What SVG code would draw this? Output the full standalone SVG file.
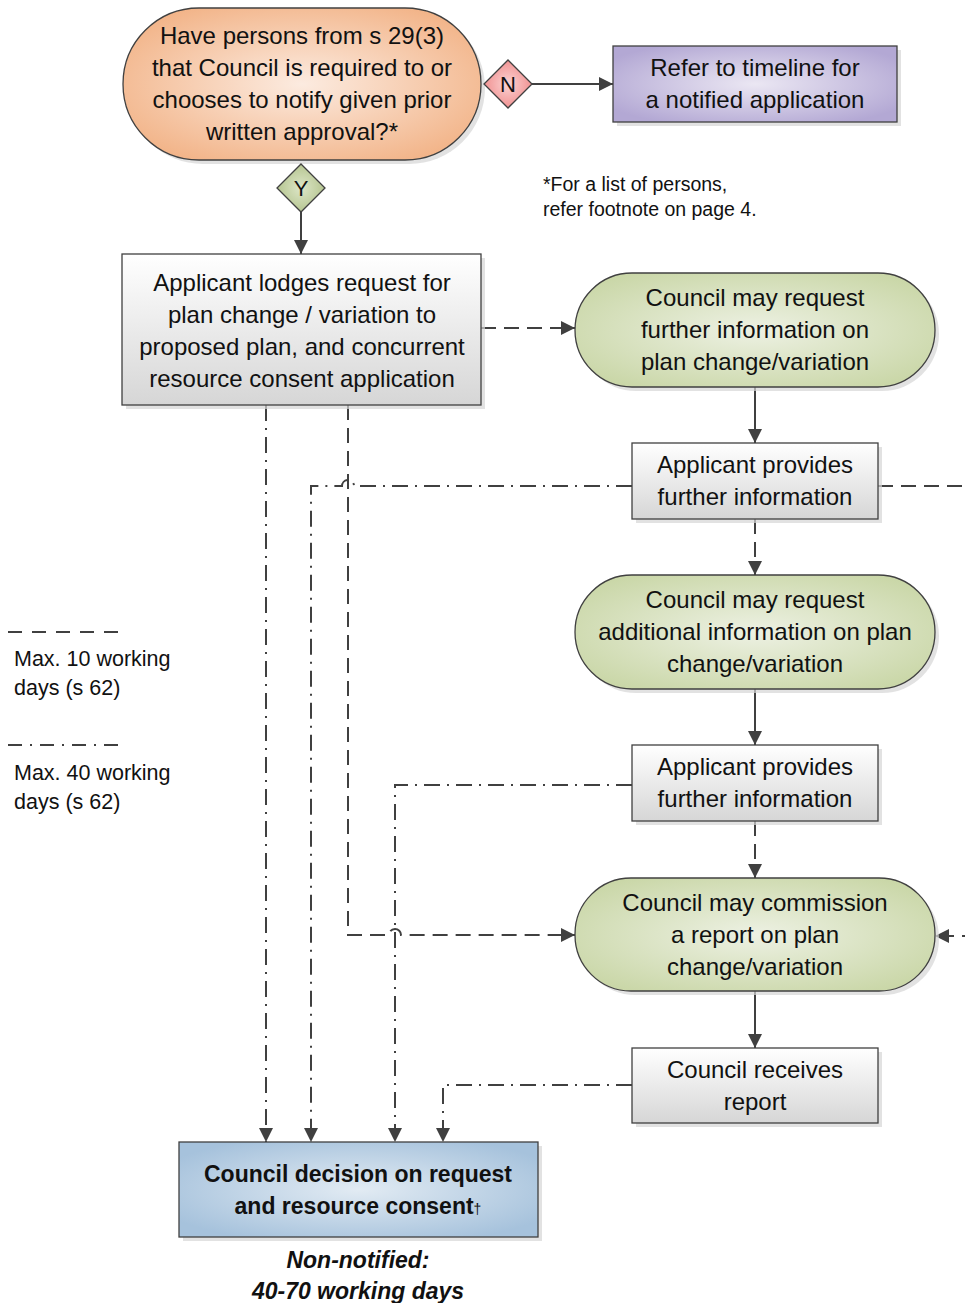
<svg xmlns="http://www.w3.org/2000/svg" width="965" height="1303" viewBox="0 0 965 1303">
  <style>
    .shape { stroke: #404040; stroke-width: 1.3; }
    .shadow { fill: #d6d6d6; opacity: 0.7; }
    .t { font-family: "Liberation Sans", Arial, sans-serif; font-size: 24px; fill: #111; text-anchor: middle; }
    .small { font-family: "Liberation Sans", Arial, sans-serif; font-size: 19.5px; fill: #111; }
    .legend { font-family: "Liberation Sans", Arial, sans-serif; font-size: 21.5px; fill: #111; }
    .b { font-family: "Liberation Sans", Arial, sans-serif; font-size: 23px; font-weight: bold; fill: #111; text-anchor: middle; }
    .bi { font-family: "Liberation Sans", Arial, sans-serif; font-size: 23px; font-weight: bold; font-style: italic; fill: #111; text-anchor: middle; }
    .line { fill: none; stroke: #404040; stroke-width: 2; }
    .solid { marker-end: url(#arrow); }
    .dash { stroke-dasharray: 15 8; }
    .dashdot { stroke-dasharray: 16 7 2 7; }
  </style>
  <defs>
    <radialGradient id="gOrange" cx="50%" cy="50%" r="60%">
      <stop offset="0" stop-color="#fcebe0"/>
      <stop offset="1" stop-color="#f2b387"/>
    </radialGradient>
    <radialGradient id="gPurple" cx="50%" cy="50%" r="60%">
      <stop offset="0" stop-color="#ebe7f3"/>
      <stop offset="1" stop-color="#b3a8d4"/>
    </radialGradient>
    <radialGradient id="gGreen" cx="50%" cy="50%" r="60%">
      <stop offset="0" stop-color="#edf1e3"/>
      <stop offset="1" stop-color="#cad7a8"/>
    </radialGradient>
    <radialGradient id="gBlue" cx="50%" cy="50%" r="60%">
      <stop offset="0" stop-color="#e2ebf3"/>
      <stop offset="1" stop-color="#a6c2dc"/>
    </radialGradient>
    <radialGradient id="gRed" cx="50%" cy="50%" r="60%">
      <stop offset="0" stop-color="#fbd3d3"/>
      <stop offset="1" stop-color="#ef8585"/>
    </radialGradient>
    <radialGradient id="gOlive" cx="50%" cy="50%" r="60%">
      <stop offset="0" stop-color="#dde6c8"/>
      <stop offset="1" stop-color="#aebf86"/>
    </radialGradient>
    <linearGradient id="gGray" x1="0" y1="0" x2="0" y2="1">
      <stop offset="0" stop-color="#ffffff"/>
      <stop offset="1" stop-color="#d6d6d6"/>
    </linearGradient>
    <marker id="arrow" markerUnits="userSpaceOnUse" markerWidth="16" markerHeight="16" refX="14" refY="7" orient="auto">
      <path d="M0,0 L14,7 L0,14 z" fill="#404040"/>
    </marker>
  </defs>

  <rect width="965" height="1303" fill="#ffffff"/>

  <!-- connectors -->
  <g id="connectors">
    <path class="line solid" d="M532,84 H613"/>
    <path class="line solid" d="M301,212 V254"/>
    <path class="line solid dash" d="M481,328 H575"/>
    <path class="line solid" d="M755,387 V443"/>
    <path class="line solid dashdot" d="M632,486 H354 A6,6 0 0 0 342,486 H311 V1142"/>
    <path class="line solid dash" d="M878,486 H990 V936 H935"/>
    <path class="line solid dash" d="M755,519 V575"/>
    <path class="line solid" d="M755,689 V745"/>
    <path class="line solid dashdot" d="M632,785 H395 V1142"/>
    <path class="line solid dash" d="M755,821 V878"/>
    <path class="line solid" d="M755,991 V1048"/>
    <path class="line solid dashdot" d="M632,1085 H443 V1142"/>
    <path class="line solid dashdot" d="M266,405 V1142"/>
    <path class="line solid dash" d="M348,405 V935 H389 A6,6 0 0 1 401,935 H575"/>
  </g>

  <!-- question -->
  <g id="question">
    <rect class="shadow" x="127" y="12" width="358" height="152" rx="76"/>
    <rect class="shape" x="123" y="8" width="358" height="152" rx="76" fill="url(#gOrange)"/>
    <text class="t" x="302" y="44">Have persons from s 29(3)</text>
    <text class="t" x="302" y="76">that Council is required to or</text>
    <text class="t" x="302" y="108">chooses to notify given prior</text>
    <text class="t" x="302" y="140">written approval?*</text>
  </g>

  <g id="no">
    <path class="shape" d="M508,60 L532,84 L508,108 L484,84 z" fill="url(#gRed)"/>
    <text class="t" x="508" y="92" style="font-size:22px">N</text>
  </g>

  <g id="yes">
    <path class="shape" d="M301,164 L325,188 L301,212 L277,188 z" fill="url(#gOlive)"/>
    <text class="t" x="301" y="196" style="font-size:22px">Y</text>
  </g>

  <g id="notified">
    <rect class="shadow" x="617" y="50" width="284" height="76"/>
    <rect class="shape" x="613" y="46" width="284" height="76" fill="url(#gPurple)"/>
    <text class="t" x="755" y="76">Refer to timeline for</text>
    <text class="t" x="755" y="108">a notified application</text>
  </g>

  <g id="footnote">
    <text class="small" x="543" y="191">*For a list of persons,</text>
    <text class="small" x="543" y="216">refer footnote on page 4.</text>
  </g>

  <g id="lodge">
    <rect class="shadow" x="126" y="258" width="359" height="151"/>
    <rect class="shape" x="122" y="254" width="359" height="151" fill="url(#gGray)"/>
    <text class="t" x="302" y="291">Applicant lodges request for</text>
    <text class="t" x="302" y="323">plan change / variation to</text>
    <text class="t" x="302" y="355">proposed plan, and concurrent</text>
    <text class="t" x="302" y="387">resource consent application</text>
  </g>

  <g id="request1">
    <rect class="shadow" x="579" y="277" width="360" height="114" rx="57"/>
    <rect class="shape" x="575" y="273" width="360" height="114" rx="57" fill="url(#gGreen)"/>
    <text class="t" x="755" y="306">Council may request</text>
    <text class="t" x="755" y="338">further information on</text>
    <text class="t" x="755" y="370">plan change/variation</text>
  </g>

  <g id="provide1">
    <rect class="shadow" x="636" y="447" width="246" height="76"/>
    <rect class="shape" x="632" y="443" width="246" height="76" fill="url(#gGray)"/>
    <text class="t" x="755" y="473">Applicant provides</text>
    <text class="t" x="755" y="505">further information</text>
  </g>

  <g id="request2">
    <rect class="shadow" x="579" y="579" width="360" height="114" rx="57"/>
    <rect class="shape" x="575" y="575" width="360" height="114" rx="57" fill="url(#gGreen)"/>
    <text class="t" x="755" y="608">Council may request</text>
    <text class="t" x="755" y="640">additional information on plan</text>
    <text class="t" x="755" y="672">change/variation</text>
  </g>

  <g id="provide2">
    <rect class="shadow" x="636" y="749" width="246" height="76"/>
    <rect class="shape" x="632" y="745" width="246" height="76" fill="url(#gGray)"/>
    <text class="t" x="755" y="775">Applicant provides</text>
    <text class="t" x="755" y="807">further information</text>
  </g>

  <g id="commission">
    <rect class="shadow" x="579" y="882" width="360" height="113" rx="56"/>
    <rect class="shape" x="575" y="878" width="360" height="113" rx="56" fill="url(#gGreen)"/>
    <text class="t" x="755" y="911">Council may commission</text>
    <text class="t" x="755" y="943">a report on plan</text>
    <text class="t" x="755" y="975">change/variation</text>
  </g>

  <g id="report">
    <rect class="shadow" x="636" y="1052" width="246" height="75"/>
    <rect class="shape" x="632" y="1048" width="246" height="75" fill="url(#gGray)"/>
    <text class="t" x="755" y="1078">Council receives</text>
    <text class="t" x="755" y="1110">report</text>
  </g>

  <g id="decision">
    <rect class="shadow" x="183" y="1146" width="359" height="95"/>
    <rect class="shape" x="179" y="1142" width="359" height="95" fill="url(#gBlue)"/>
    <text class="b" x="358" y="1182">Council decision on request</text>
    <text class="b" x="358" y="1214">and resource consent<tspan style="font-size:14px;font-weight:normal">†</tspan></text>
    <text class="bi" x="358" y="1268">Non-notified:</text>
    <text class="bi" x="358" y="1299">40-70 working days</text>
  </g>

  <g id="legend">
    <path class="line dash" d="M8,632 H122" style="stroke-dasharray:14 10"/>
    <text class="legend" x="14" y="666">Max. 10 working</text>
    <text class="legend" x="14" y="695">days (s 62)</text>
    <path class="line dashdot" d="M8,745 H124" style="stroke-dasharray:14 8 2 8"/>
    <text class="legend" x="14" y="780">Max. 40 working</text>
    <text class="legend" x="14" y="809">days (s 62)</text>
  </g>
</svg>
